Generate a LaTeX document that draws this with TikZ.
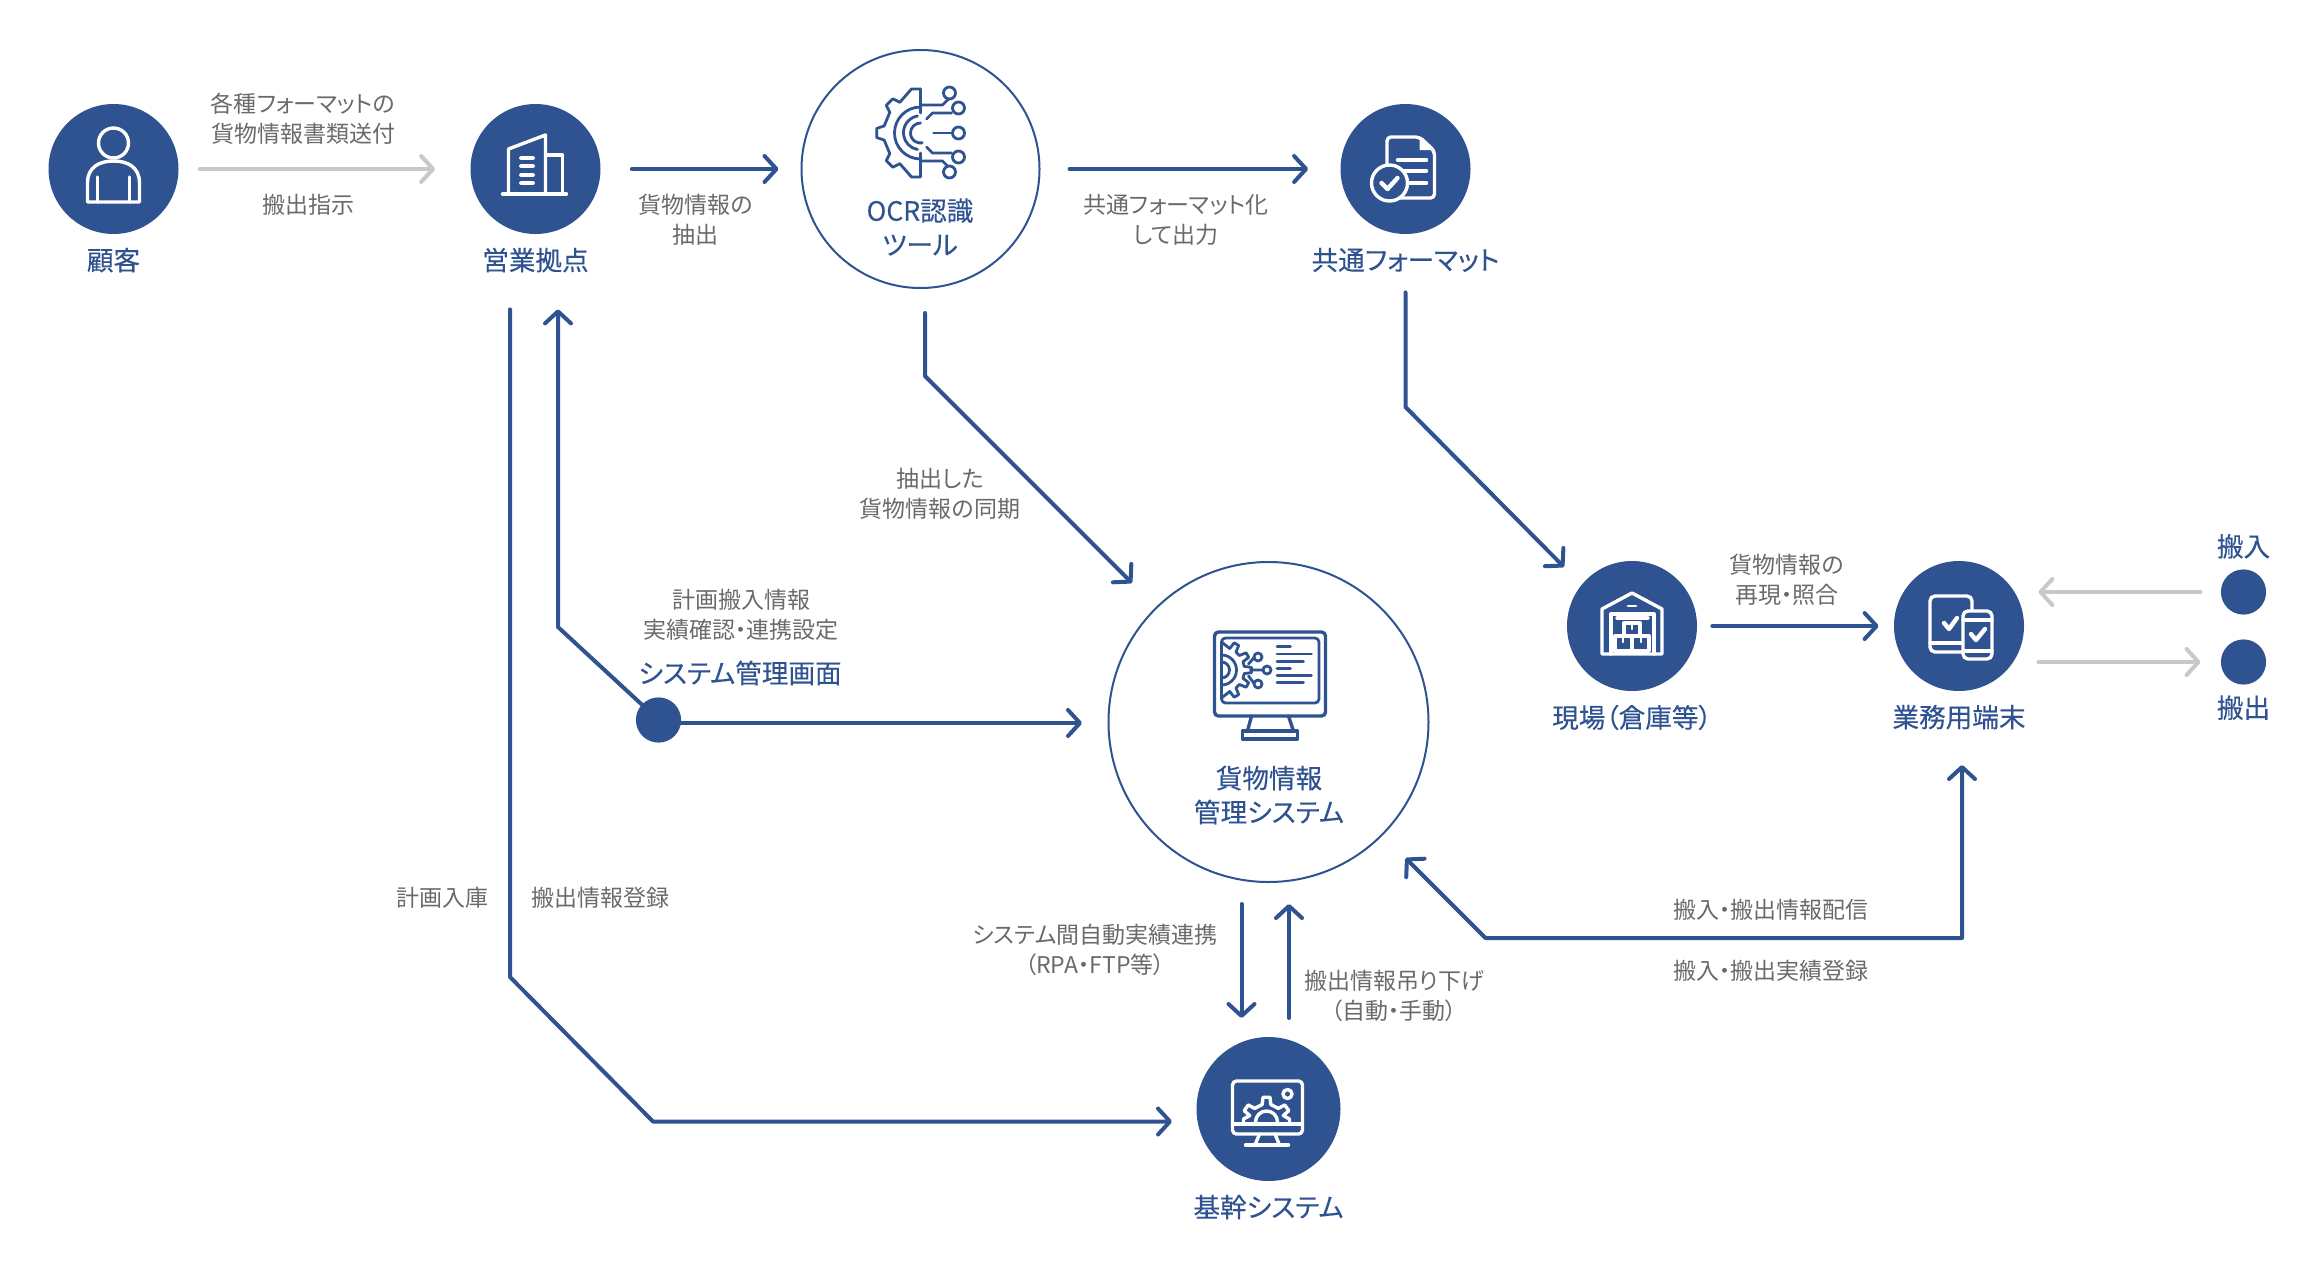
\documentclass[tikz,border=0pt]{standalone}
\usepackage{fontspec}
\usepackage{xcolor}
\usepackage{tikz}
\usetikzlibrary{arrows.meta,positioning,calc}
\setmainfont[RawFeature=+palt]{Noto Sans CJK JP}
\newfontfamily\ttlfont[FakeBold=0.25,RawFeature=+palt]{Noto Sans CJK JP}
\definecolor{navy}{HTML}{2F5291}
\definecolor{ash}{HTML}{C8C8C8}
\definecolor{slate}{HTML}{6A6A6A}
\tikzset{
  hub/.style={circle, fill=navy, inner sep=0pt, minimum size=65pt},
  ring/.style={circle, draw=navy, fill=white, line width=1pt, inner sep=0pt},
  dotnode/.style={circle, fill=navy, inner sep=0pt, minimum size=22.6pt},
  lbl/.style={font=\fontsize{11.5}{15}\selectfont, text=slate, align=center, inner sep=0pt},
  ttl/.style={font=\ttlfont\fontsize{13.3}{17}\selectfont, text=navy, align=center, inner sep=0pt},
  flow/.style={-{Straight Barb[length=6pt,width=13pt,round]}, draw=navy, line width=2pt, line join=round, line cap=round},
  twoway/.style={flow, {Straight Barb[length=6pt,width=13pt,round]}-{Straight Barb[length=6pt,width=13pt,round]}},
  graylink/.style={flow, draw=ash},
  icon/.style={draw=white, line width=1.7pt, line join=round, line cap=round},
  iconb/.style={draw=navy, line width=1.4pt, line join=round, line cap=round}
}
\begin{document}
\begin{tikzpicture}[x=0.5pt, y=-0.5pt]
  \useasboundingbox (0,0) rectangle (2320,1270);

  % nodes
  \node[hub] (cust) at (113.5,169) {};
  \node[hub] (sales) at (535.5,169) {};
  \node[ring, minimum size=119pt] (ocr) at (920.5,169) {};
  \node[hub] (fmt) at (1405.5,169) {};
  \node[ring, minimum size=160pt] (mgmt) at (1268.5,722) {};
  \node[hub] (field) at (1632,626) {};
  \node[hub] (term) at (1959,626) {};
  \node[hub, minimum size=72pt] (core) at (1268.5,1109) {};
  \node[dotnode] (sysdot) at (658.5,720) {};
  \node[dotnode] (indot) at (2243.5,592) {};
  \node[dotnode] (outdot) at (2243.5,662) {};

  % titles
  \node[ttl, below=6.5pt of cust] (custt) {顧客};
  \node[ttl, below=6.5pt of sales] (salest) {営業拠点};
  \node[ttl, below=6.5pt of fmt] (fmtt) {共通フォーマット};
  \node[ttl, below=6.5pt of field] (fieldt) {現場（倉庫等）};
  \node[ttl, below=6.5pt of term] (termt) {業務用端末};
  \node[ttl, below=6.5pt of core] (coret) {基幹システム};
  \node[ttl, above=5pt of indot] (int) {搬入};
  \node[ttl, below=5pt of outdot] (outt) {搬出};
  \node[ttl] (ocrt) at (920,227) {OCR認識\\ツール};
  \node[ttl] (mgmtt) at (1269,795) {貨物情報\\管理システム};
  \node[ttl] (syst) at (740,673) {システム管理画面};

  % grey labels
  \node[lbl] (l1) at (303,118.5) {各種フォーマットの\\貨物情報書類送付};
  \node[lbl] (l2) at (308,205) {搬出指示};
  \node[lbl] (l3) at (695.5,220) {貨物情報の\\抽出};
  \node[lbl] (l4) at (1176,220) {共通フォーマット化\\して出力};
  \node[lbl] (l5) at (940,494) {抽出した\\貨物情報の同期};
  \node[lbl] (l6) at (741,615) {計画搬入情報\\実績確認・連携設定};
  \node[lbl] (l7) at (1787,580) {貨物情報の\\再現・照合};
  \node[lbl] (l8) at (442,898) {計画入庫};
  \node[lbl] (l9) at (600,898) {搬出情報登録};
  \node[lbl] (l10) at (1095,950) {システム間自動実績連携\\（RPA・FTP等）};
  \node[lbl] (l11) at (1394,996) {搬出情報吊り下げ\\（自動・手動）};
  \node[lbl] (l12) at (1771,910) {搬入・搬出情報配信};
  \node[lbl] (l13) at (1771,971) {搬入・搬出実績登録};

  % bends
  \coordinate (ocrbend) at (925,376);
  \coordinate (ocrend) at (1132,583);
  \coordinate (fmtbend) at (1405.5,407);
  \coordinate (fmtend) at (1564,567);
  \coordinate (salesbend) at (510,977);
  \coordinate (salesturn) at (653,1121.5);
  \coordinate (coreend) at (1172,1121.5);
  \coordinate (sysbend) at (558,627);
  \coordinate (sysend) at (1082,723);
  \coordinate (retcorner) at (1962,938);
  \coordinate (retturn) at (1485.5,938);
  \coordinate (retend) at (1405.5,858);
  \coordinate (retstart) at (1962,765);
  \coordinate (downa) at (1241.5,904);
  \coordinate (downb) at (1241.5,1018);
  \coordinate (upa) at (1289,1018);
  \coordinate (upb) at (1289,904);

  % connectors
  \draw[graylink, shorten <=10.5pt, shorten >=17.5pt] (cust) -- (sales);
  \draw[flow, shorten <=15.5pt, shorten >=11pt] (sales) -- (ocr);
  \draw[flow, shorten <=14.5pt, shorten >=16pt] (ocr) -- (fmt);
  \draw[flow, shorten <=12pt] (ocr.south -| ocrbend) -- (ocrbend) -- (ocrend);
  \draw[flow, shorten <=29pt] (fmt.south) -- (fmtbend) -- (fmtend);
  \draw[flow, shorten <=37.5pt] (sales.south -| salesbend) -- (salesbend) -- (salesturn) -- (coreend);
  \draw[flow, shorten >=37.5pt] (sysdot) -- (sysbend) -- (sales.south -| sysbend);
  \draw[flow] (sysdot.center |- sysend) -- (sysend);
  \draw[flow, shorten <=7.5pt, shorten >=7.5pt] (field) -- (term);
  \draw[graylink, shorten <=10pt, shorten >=7pt] (indot) -- (indot -| term.east);
  \draw[graylink, shorten <=7pt, shorten >=10pt] (outdot -| term.east) -- (outdot);
  \draw[twoway] (retstart) -- (retcorner) -- (retturn) -- (retend);
  \draw[flow] (downa) -- (downb);
  \draw[flow] (upa) -- (upb);

  % person
  \begin{scope}[shift={(cust.center)}]
    \draw[icon] (0,-26) circle[radius=15];
    \draw[icon] (-26,33) -- (-26,14) .. controls (-26,-2) and (-14,-8) .. (0,-8) .. controls (14,-8) and (26,-2) .. (26,14) -- (26,33) -- cycle;
    \draw[icon] (-16,8) -- (-16,33) (16,8) -- (16,33);
  \end{scope}

  % building
  \begin{scope}[shift={(sales.center)}]
    \draw[icon] (-33,25) -- (31,25);
    \draw[icon] (-27,25) -- (-27,-20) -- (10,-34) -- (10,25);
    \draw[icon] (10,-14) -- (27,-14) -- (27,25);
    \foreach \yy in {-11,-3,6,14} {
      \draw[icon, line width=2.4pt] (-14,\yy) -- (-3,\yy);
    }
  \end{scope}

  % ocr gear
  \begin{scope}[shift={(920.5,133)}]
    \draw[iconb] (0,-44) -- (-9,-44) \foreach \a in {225,180,135} {-- ({\a+11}:37) -- ({\a+6}:44) -- ({\a-6}:44) -- ({\a-11}:37)} -- (-9,44) -- (0,44) -- (0,20);
    \draw[iconb] (0,-44) -- (0,-20);
    \draw[iconb] (0,-26) arc[start angle=270, end angle=90, radius=26];
    \draw[iconb] (-3,-17) arc[start angle=260, end angle=100, radius=17];
    \draw[iconb] (0,-10) arc[start angle=270, end angle=80, radius=10];
    \draw[iconb] (0,-28) -- (22,-28) -- (29,-35);
    \draw[iconb] (6,-14) -- (12,-20) -- (31,-20);
    \draw[iconb] (13,0) -- (32,0);
    \draw[iconb] (6,14) -- (12,20) -- (31,20);
    \draw[iconb] (0,28) -- (22,28) -- (29,35);
    \foreach \px/\py in {29/-40,38/-25,38/0,38/24,29/39} {
      \draw[iconb, fill=white] (\px,\py) circle[radius=6];
    }
  \end{scope}

  % document with check
  \begin{scope}[shift={(fmt.center)}]
    \draw[icon, rounded corners=2pt] (14,-32) -- (-18.5,-32) -- (-18.5,29) -- (29,29) -- (29,-18) -- cycle;
    \fill[white] (14,-32) -- (14,-19) -- (29,-19) -- cycle;
    \foreach \yy in {-9,2,14} {
      \draw[icon] (-8,\yy) -- (21,\yy);
    }
    \draw[icon, fill=navy] (-16,14) circle[radius=18];
    \draw[icon, line width=2.2pt] (-24,14) -- (-18,20) -- (-8,9);
  \end{scope}

  % warehouse
  \begin{scope}[shift={(field.center)}]
    \draw[icon] (-30,28) -- (-30,-17) -- (0,-33) -- (30,-17) -- (30,28) -- cycle;
    \draw[icon, line width=1.4pt] (-4,-20) -- (4,-20);
    \draw[icon] (-21,28) -- (-21,-12) -- (22,-12) -- (22,28);
    \draw[icon] (-15,-8) -- (16,-8);
    \draw[icon] (-8,10) rectangle (8,-3);
    \draw[icon] (-17,25) rectangle (0,10) (0,25) rectangle (17,10);
    \draw[icon, line width=1.4pt] (-9,11) -- (-9,16) (9,11) -- (9,16) (0,-2) -- (0,3);
  \end{scope}

  % tablet and phone
  \begin{scope}[shift={(term.center)}]
    \draw[icon, rounded corners=2.5pt] (-29,-30) rectangle (13,26);
    \draw[icon] (-29,17) -- (4,17);
    \draw[icon, line width=2.2pt] (-15,-3) -- (-10,3) -- (-2,-8);
    \draw[icon, fill=navy, rounded corners=2.5pt] (4,-15) rectangle (33,33);
    \draw[icon] (4,-6) -- (33,-6) (4,25) -- (33,25);
    \draw[icon, line width=2.2pt] (12,8) -- (17,14) -- (26,3);
  \end{scope}

  % monitor with circuit
  \begin{scope}[shift={(mgmt.center)}]
    \draw[iconb, line width=1.7pt, rounded corners=2pt] (-54,-90) rectangle (57,-6);
    \draw[iconb, rounded corners=2pt] (-47,-84) rectangle (50.5,-19);
    \draw[iconb, line width=1.7pt] (-17,-6) -- (-21,9) (20,-6) -- (25,9);
    \draw[iconb, line width=1.7pt] (-26,9) rectangle (29,17);
    \begin{scope}[shift={(-47,-52)}]
      \draw[iconb] (0,-28) \foreach \a in {-60,-30,0,30,60} {-- ({\a-9}:23) -- ({\a-5}:30) -- ({\a+5}:30) -- ({\a+9}:23)} -- (0,28);
      \draw[iconb] (0,-15) arc[start angle=-90, end angle=90, radius=15];
      \draw[iconb] (0,-8) arc[start angle=-90, end angle=90, radius=8];
    \end{scope}
    \draw[iconb] (-20,-58) -- (-14,-65) (-18,-52) -- (-6,-52) (-20,-46) -- (-14,-38);
    \foreach \px/\py in {-10.5/-65,-1.5/-52,-10.5/-38} {
      \draw[iconb, fill=white] (\px,\py) circle[radius=4];
    }
    \foreach \yy/\xa in {-75.3/22,-68/43,-60.7/35,-53.7/22,-46.3/43,-39.3/35} {
      \draw[iconb] (8.5,\yy) -- (\xa,\yy);
    }
  \end{scope}

  % monitor with gear
  \begin{scope}[shift={(core.center)}]
    \draw[icon, rounded corners=2pt] (-36,-28) rectangle (34,25);
    \draw[icon] (-36,15) -- (34,15);
    \draw[icon] (-9,25) -- (-13.5,36) (6.5,25) -- (11,36);
    \draw[icon] (-23,36) -- (20,36);
    \begin{scope}[shift={(-2,13)}]
      \draw[icon] (-23,2) -- (-23,-3) \foreach \a in {215,270,325} {-- ({\a-14}:18) -- ({\a-8}:25) -- ({\a+8}:25) -- ({\a+14}:18)} -- (23,-3) -- (23,2);
      \draw[icon] (-11,2) -- (-11,0) arc[start angle=180, end angle=360, radius=11] -- (11,2);
    \end{scope}
    \draw[icon] (19,-15) circle[radius=4.5];
  \end{scope}
\end{tikzpicture}
\end{document}
